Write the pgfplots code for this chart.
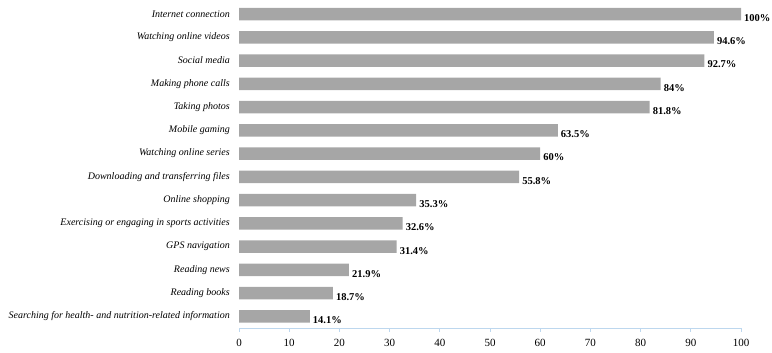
\documentclass[border=0pt]{standalone}
\usepackage{pgfplots}
\pgfplotsset{compat=1.18}
\usepackage{fontspec}
\setmainfont{Liberation Serif}
\definecolor{barc}{HTML}{A6A6A6}
\definecolor{axc}{HTML}{BDD7EE}
\begin{document}
\begin{tikzpicture}[x=1pt,y=1pt]
\useasboundingbox (0,0) rectangle (772,353);
\begin{axis}[
  at={(239pt,25pt)}, anchor=south west,
  scale only axis, width=502pt, height=325.6pt,
  xbar, bar width=12.5pt,
  xmin=0, xmax=100, ymin=-0.5, ymax=13.5,
  xtick={0,10,...,100},
  axis x line*=bottom, axis y line=none,
  x axis line style={draw=axc, line width=0.8pt, -},
  xtick style={draw=axc, line width=0.8pt},
  tick align=outside, major tick length=4pt,
  xticklabel style={font=\fontsize{11}{13}\selectfont, yshift=-4pt},
  /pgf/number format/assume math mode=true,
  nodes near coords={\pgfmathprintnumber{\pgfplotspointmeta}\%},
  nodes near coords style={font=\fontsize{10.5}{12}\selectfont\bfseries, anchor=west, inner sep=3pt, yshift=-4pt, text=black},
  point meta=explicit,
  clip=false,
]
\addplot[fill=barc, draw=none] table[x=v, y=y, meta=v] {
y v
0 14.1
1 18.7
2 21.9
3 31.4
4 32.6
5 35.3
6 55.8
7 60
8 63.5
9 81.8
10 84
11 92.7
12 94.6
13 100
};
\end{axis}
\begin{axis}[
  at={(239pt,25pt)}, anchor=south west,
  scale only axis, width=502pt, height=325.6pt,
  xmin=0, xmax=100, ymin=-0.5, ymax=13.5,
  hide x axis, axis y line=left, y axis line style={draw=none},
  ytick={0,...,13}, major tick length=0pt,
  yticklabels={Searching for health- and nutrition-related information, Reading books, Reading news, GPS navigation, Exercising or engaging in sports activities, Online shopping, Downloading and transferring files, Watching online series, Mobile gaming, Taking photos, Making phone calls, Social media, Watching online videos, Internet connection},
  yticklabel style={font=\fontsize{10}{12}\selectfont\itshape, anchor=east, inner sep=0pt, xshift=-9pt},
]
\end{axis}
\end{tikzpicture}
\end{document}
